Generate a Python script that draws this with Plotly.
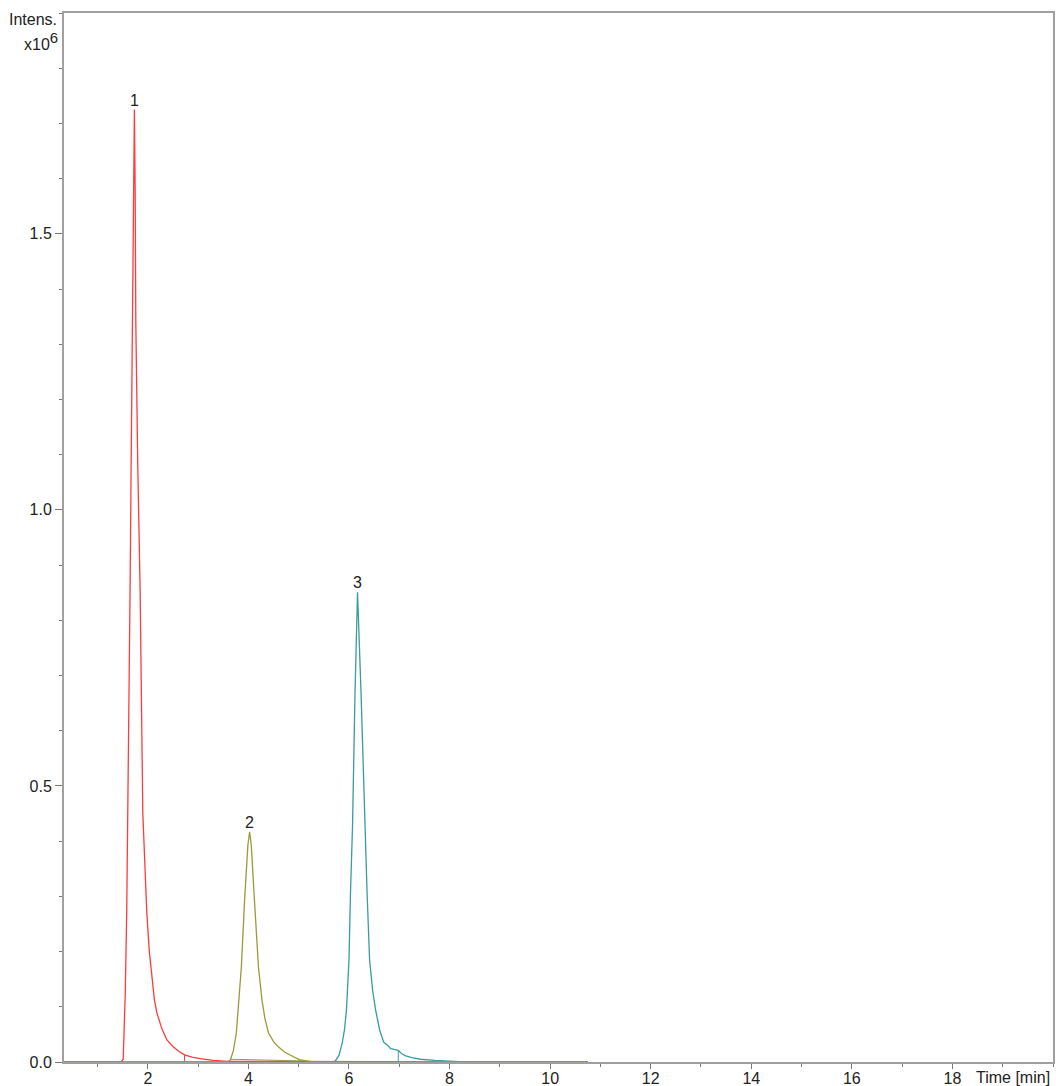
import plotly.graph_objects as go

# Peak 1 (red) — time [min], intensity [x10^6]
t_red = [0.33, 1.47, 1.51, 1.55, 1.58, 1.62, 1.647, 1.67, 1.693, 1.715, 1.733, 1.748, 1.761, 1.80, 1.847, 1.90,
         1.94, 1.98, 2.03, 2.08, 2.13, 2.18, 2.28, 2.38, 2.50, 2.62, 2.73, 2.88, 3.04, 3.30, 3.60, 10.75]
i_red = [0.0, 0.0, 0.005, 0.12, 0.27, 0.58, 0.855, 1.10, 1.339, 1.58, 1.725, 1.58, 1.339, 1.08, 0.855, 0.451,
         0.35, 0.27, 0.20, 0.149, 0.113, 0.089, 0.060, 0.040, 0.028, 0.019, 0.013, 0.009, 0.006, 0.003, 0.001, 0.0]

# Peak 2 (olive)
t_olive = [0.33, 3.58, 3.64, 3.70, 3.76, 3.81, 3.86, 3.924, 3.99, 4.024, 4.057, 4.12, 4.16, 4.20, 4.27, 4.33,
           4.40, 4.50, 4.60, 4.72, 4.83, 5.03, 5.30, 10.75]
i_olive = [0.0, 0.0, 0.0035, 0.02, 0.0525, 0.105, 0.172, 0.293, 0.393, 0.417, 0.393, 0.293, 0.225, 0.172,
           0.112, 0.078, 0.0525, 0.037, 0.027, 0.018, 0.0127, 0.0036, 0.0, 0.0]

# Peak 3 (teal)
t_teal = [0.33, 5.68, 5.73, 5.80, 5.865, 5.91, 5.95, 6.00, 6.03, 6.07, 6.12, 6.17, 6.24, 6.315, 6.36, 6.41,
          6.47, 6.53, 6.61, 6.69, 6.76, 6.83, 6.90, 6.98, 7.05, 7.13, 7.25, 7.42, 7.70, 8.02, 8.30, 10.75]
i_teal = [0.0, 0.0, 0.002, 0.012, 0.034, 0.058, 0.094, 0.185, 0.306, 0.426, 0.668, 0.851, 0.668, 0.426, 0.306,
          0.185, 0.13, 0.094, 0.058, 0.036, 0.031, 0.024, 0.022, 0.021, 0.015, 0.011, 0.008, 0.005, 0.003, 0.002,
          0.0, 0.0]

# integration marks
olive_base_t = [3.64, 5.03]
olive_base_i = [0.005, 0.002]
red_mark_t = [2.73, 2.73]
red_mark_i = [0.0, 0.013]
teal_mark_t = [6.98, 6.98]
teal_mark_i = [0.0, 0.021]

peak_labels = ["1", "2", "3"]
peak_t = [1.733, 4.024, 6.17]
peak_i = [1.725, 0.417, 0.851]

RED = "#ff3b3b"
OLIVE = "#9a9a3a"
TEAL = "#3a9c9c"
FONT = dict(size=16, color="#222222", family="Liberation Sans")

fig = go.Figure()
fig.add_trace(go.Scatter(x=t_red, y=i_red, mode="lines", line=dict(color=RED, width=1.3)))
fig.add_trace(go.Scatter(x=red_mark_t, y=red_mark_i, mode="lines", line=dict(color=RED, width=1)))
fig.add_trace(go.Scatter(x=t_teal, y=i_teal, mode="lines", line=dict(color=TEAL, width=1.3)))
fig.add_trace(go.Scatter(x=teal_mark_t, y=teal_mark_i, mode="lines", line=dict(color=TEAL, width=1)))
fig.add_trace(go.Scatter(x=t_olive, y=i_olive, mode="lines", line=dict(color=OLIVE, width=1.3)))
fig.add_trace(go.Scatter(x=olive_base_t, y=olive_base_i, mode="lines", line=dict(color=OLIVE, width=1)))

for lab, tx, iy in zip(peak_labels, peak_t, peak_i):
    fig.add_annotation(x=tx, y=iy, text=lab, showarrow=False, xanchor="center", yanchor="bottom",
                       yshift=-1, font=FONT)

fig.add_annotation(xref="paper", yref="paper", x=0, y=1, xanchor="right", yanchor="top",
                   xshift=-5, yshift=4, align="right", showarrow=False,
                   text="Intens.", font=FONT)
fig.add_annotation(xref="paper", yref="paper", x=0, y=1, xanchor="right", yanchor="top",
                   xshift=-4, yshift=-14, align="right", showarrow=False,
                   text="x10<sup><span style='font-size:15px'>6</span></sup>", font=FONT)
fig.add_annotation(xref="paper", yref="paper", x=1, y=0, xanchor="right", yanchor="middle",
                   xshift=-1, yshift=-15, showarrow=False, text="Time [min]", font=FONT)

AX = "#a0a0a0"
fig.update_layout(
    width=1056, height=1086,
    margin=dict(l=64, r=3, t=13, b=24),
    paper_bgcolor="white", plot_bgcolor="white",
    showlegend=False,
    font=FONT,
    xaxis=dict(range=[0.333, 20.0], showgrid=False, zeroline=False, automargin=False,
               showline=True, linecolor=AX, linewidth=2, mirror=True,
               ticks="outside", ticklen=5, tickwidth=1, tickcolor="#777777",
               tickvals=[2, 4, 6, 8, 10, 12, 14, 16, 18], tickfont=FONT, ticklabelstandoff=-4,
               minor=dict(dtick=1, tick0=0, ticks="outside", ticklen=3, tickcolor="#777777", showgrid=False)),
    yaxis=dict(range=[0, 1.90], showgrid=False, zeroline=False, automargin=False,
               showline=True, linecolor=AX, linewidth=2, mirror=True,
               ticks="outside", ticklen=7, tickwidth=1, tickcolor="#777777",
               tickvals=[0, 0.5, 1.0, 1.5], tickformat=".1f", tickfont=FONT,
               minor=dict(dtick=0.1, tick0=0, ticks="outside", ticklen=3, tickcolor="#777777", showgrid=False)),
)

fig.write_html("out.html")
